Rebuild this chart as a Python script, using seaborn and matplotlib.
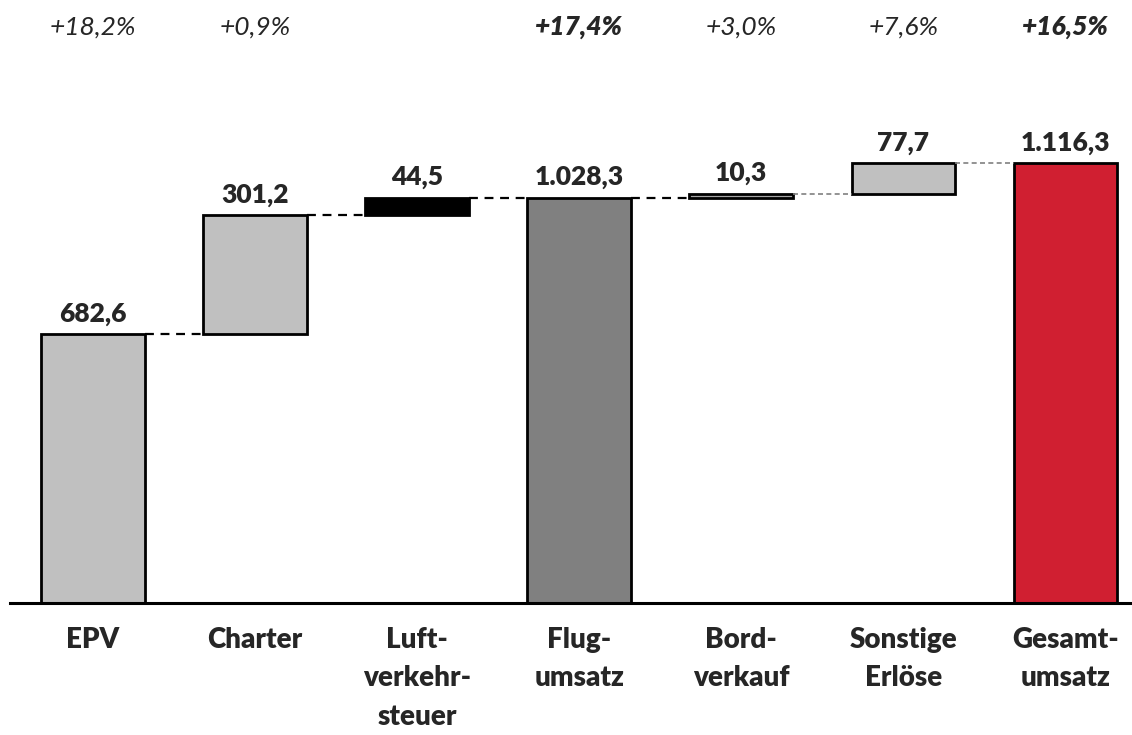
import matplotlib
matplotlib.use("Agg")
import matplotlib.pyplot as plt
import seaborn as sns
import pandas as pd

# data
categories = ["EPV", "Charter", "Luft-\nverkehr-\nsteuer", "Flug-\numsatz",
              "Bord-\nverkauf", "Sonstige\nErlöse", "Gesamt-\numsatz"]
values = [682.6, 301.2, 44.5, 1028.3, 10.3, 77.7, 1116.3]
is_total = [True, False, False, True, False, False, True]
value_labels = ["682,6", "301,2", "44,5", "1.028,3", "10,3", "77,7", "1.116,3"]
pct_labels = ["+18,2%", "+0,9%", "", "+17,4%", "+3,0%", "+7,6%", "+16,5%"]
pct_bold = [False, False, False, True, False, False, True]
colors = ["#c0c0c0", "#c0c0c0", "#000000", "#808080", "#a6a6a6", "#c0c0c0", "#d01f31"]

# running totals for the waterfall
bottoms = []
running = 0.0
for v, tot in zip(values, is_total):
    if tot:
        bottoms.append(0.0)
        running = v
    else:
        bottoms.append(running)
        running += v
tops = [b + v for b, v in zip(bottoms, values)]

df = pd.DataFrame({"cat": categories, "value": values, "bottom": bottoms})

sns.set_theme(style="white")
plt.rcParams["font.family"] = ["Lato", "DejaVu Sans"]

fig = plt.figure(figsize=(11.32, 7.35), dpi=100)
ax = fig.add_axes([10 / 1132, 132 / 735, 1122 / 1132, 463 / 735])

sns.barplot(data=df, x="cat", y="value", bottom=df["bottom"].values,
            width=0.64, color="#c0c0c0", edgecolor="black", linewidth=2,
            ax=ax)
for patch, c in zip(ax.patches, colors):
    patch.set_facecolor(c)

# connector lines
half = 0.32
for i in range(len(values) - 1):
    level = tops[i]
    gray = i >= 4
    ax.plot([i + half, i + 1 - half], [level, level],
            color="#808080" if gray else "black",
            lw=1.2 if gray else 1.6, ls=(0, (4, 3)) if not gray else (0, (3, 2)),
            zorder=1)

# value labels above bars
for i, (t, lab) in enumerate(zip(tops, value_labels)):
    ax.annotate(lab, (i, t), xytext=(0, 6), textcoords="offset points",
                ha="center", va="bottom", fontsize=19, fontweight="heavy")

# growth rates on top
for i, (lab, b) in enumerate(zip(pct_labels, pct_bold)):
    if lab:
        ax.annotate(lab, (i, 1), xycoords=("data", "figure fraction"),
                    xytext=(0, -27 * 0.72), textcoords="offset points",
                    ha="center", va="center", fontsize=19, style="italic",
                    fontweight="heavy" if b else "normal")

ax.set_xlim(-0.51, 6.41)
ax.set_ylim(0, 1175)
ax.set_xlabel("")
ax.set_ylabel("")
ax.set_yticks([])
ax.tick_params(axis="x", length=0, pad=17)
for lab in ax.get_xticklabels():
    lab.set_fontweight("heavy")
    lab.set_fontsize(20)
    lab.set_linespacing(1.6)
    lab.set_verticalalignment("top")
for s in ["top", "left", "right"]:
    ax.spines[s].set_visible(False)
ax.spines["bottom"].set_color("black")
ax.spines["bottom"].set_linewidth(2.2)

fig.savefig("out.png", dpi=100)
